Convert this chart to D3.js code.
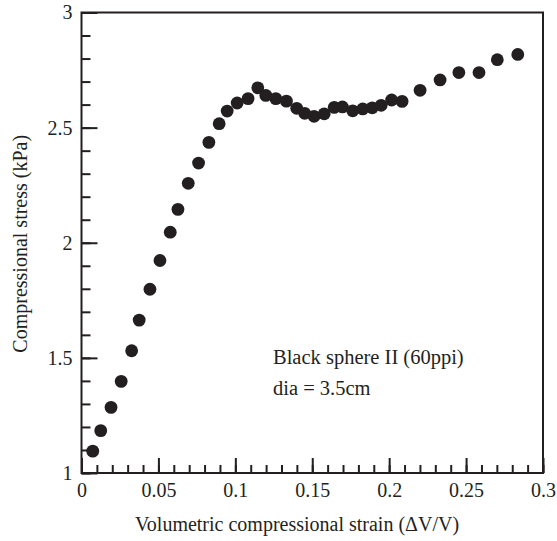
<!DOCTYPE html>
<html>
<head>
<meta charset="utf-8">
<script src="https://cdn.jsdelivr.net/npm/d3@7"></script>
<style>
  body { margin: 0; background: #fff; }
  svg { display: block; }
</style>
</head>
<body>
<script>
const width = 557;
const height = 541;
const margin = {top: 12.5, right: 14, bottom: 68, left: 81.5};

// strain (dV/V)
const strain = [0.0073, 0.0125, 0.0192, 0.0258, 0.0326, 0.0375, 0.0445, 0.0510,
  0.0577, 0.0627, 0.0694, 0.0761, 0.0828, 0.0895, 0.0947, 0.1012, 0.1083,
  0.1146, 0.1198, 0.1263, 0.1332, 0.1399, 0.1451, 0.1512, 0.1578, 0.1643,
  0.1696, 0.1763, 0.1828, 0.1890, 0.1948, 0.2016, 0.2084, 0.2201, 0.2331,
  0.2453, 0.2584, 0.2703, 0.2836];
// stress (kPa)
const stress = [1.095, 1.184, 1.285, 1.398, 1.531, 1.664, 1.798, 1.923,
  2.046, 2.145, 2.258, 2.346, 2.436, 2.517, 2.572, 2.607, 2.626,
  2.673, 2.640, 2.626, 2.615, 2.584, 2.562, 2.549, 2.560, 2.588,
  2.590, 2.573, 2.581, 2.586, 2.597, 2.620, 2.614, 2.662, 2.707,
  2.739, 2.739, 2.795, 2.818];

const xTicks = [0, 0.05, 0.1, 0.15, 0.2, 0.25, 0.3];
const yTicks = [1, 1.5, 2, 2.5, 3];
const xMinor = d3.range(0, 31).map(d => d / 100);
const yMinor = d3.range(10, 31).map(d => d / 10);

const ink = "#231f20";
const font = "'Liberation Serif', 'Times New Roman', serif";

const x = d3.scaleLinear().domain([0, 0.3]).range([margin.left, width - margin.right]);
const y = d3.scaleLinear().domain([1, 3]).range([height - margin.bottom, margin.top]);

const svg = d3.select("body").append("svg")
    .attr("width", width)
    .attr("height", height)
    .style("font-family", font);

// minor ticks
svg.append("g")
    .attr("transform", "translate(0," + y(1) + ")")
    .call(d3.axisBottom(x).tickValues(xMinor).tickSizeInner(-8).tickSizeOuter(0).tickFormat(""))
    .call(g => g.select(".domain").remove());
svg.append("g")
    .attr("transform", "translate(" + x(0) + ",0)")
    .call(d3.axisLeft(y).tickValues(yMinor).tickSizeInner(-9).tickSizeOuter(0).tickFormat(""))
    .call(g => g.select(".domain").remove());

// major ticks + labels
svg.append("g")
    .attr("transform", "translate(0," + y(1) + ")")
    .attr("font-family", font)
    .call(d3.axisBottom(x).tickValues(xTicks).tickSizeInner(-15).tickSizeOuter(0)
        .tickPadding(10).tickFormat(d => d))
    .call(g => g.select(".domain").remove());
svg.append("g")
    .attr("transform", "translate(" + x(0) + ",0)")
    .call(d3.axisLeft(y).tickValues(yTicks).tickSizeInner(-16).tickSizeOuter(0)
        .tickPadding(9).tickFormat(d => d))
    .call(g => g.select(".domain").remove());

svg.selectAll("g").attr("font-family", font).attr("font-size", 20);
svg.selectAll(".tick line").attr("stroke", ink).attr("stroke-width", 2);
svg.selectAll(".tick text").attr("fill", ink);

// frame
svg.append("rect")
    .attr("x", x(0))
    .attr("y", y(3))
    .attr("width", x(0.3) - x(0))
    .attr("height", y(1) - y(3))
    .attr("fill", "none")
    .attr("stroke", ink)
    .attr("stroke-width", 2);

// points
svg.append("g")
    .attr("fill", ink)
    .selectAll("circle")
    .data(strain)
    .join("circle")
    .attr("cx", d => x(d))
    .attr("cy", (d, i) => y(stress[i]))
    .attr("r", 6.4);

// axis titles
svg.append("text")
    .attr("x", 297)
    .attr("y", 531)
    .attr("text-anchor", "middle")
    .attr("fill", ink)
    .attr("font-size", 20)
    .text("Volumetric compressional strain (\u0394V/V)");

svg.append("text")
    .attr("transform", "translate(27," + (y(2) + 1) + ") rotate(-90)")
    .attr("text-anchor", "middle")
    .attr("fill", ink)
    .attr("font-size", 20)
    .text("Compressional stress (kPa)");

// annotation
const notes = ["Black sphere II (60ppi)", "dia = 3.5cm"];
svg.append("g")
    .selectAll("text")
    .data(notes)
    .join("text")
    .attr("x", 273)
    .attr("y", (d, i) => 364 + i * 31)
    .attr("fill", ink)
    .attr("font-size", 20.5)
    .text(d => d);
</script>
</body>
</html>
